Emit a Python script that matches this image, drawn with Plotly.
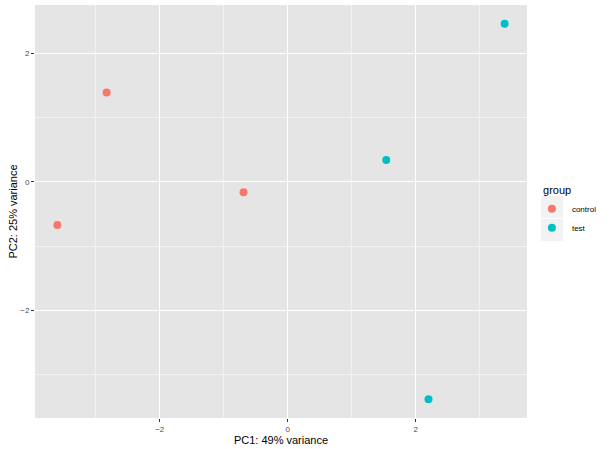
import plotly.graph_objects as go

# PCA scores
groups = ['control', 'control', 'control', 'test', 'test', 'test']
pc1 = [-2.83, -3.60, -0.69, 1.54, 3.39, 2.20]
pc2 = [1.39, -0.67, -0.16, 0.34, 2.46, -3.38]

colors = {'control': '#F8766D', 'test': '#00BFC4'}
font = 'Liberation Sans, Arial, sans-serif'

fig = go.Figure()
for g in ['control', 'test']:
    xs = [x for x, gg in zip(pc1, groups) if gg == g]
    ys = [y for y, gg in zip(pc2, groups) if gg == g]
    fig.add_trace(go.Scatter(x=xs, y=ys, mode='markers', name=g,
                             marker=dict(color=colors[g], size=8)))

# ggplot-style 5% padding around the data
xr = max(pc1) - min(pc1)
yr = max(pc2) - min(pc2)

axis_common = dict(
    showgrid=True, gridcolor='white', gridwidth=1.1,
    zeroline=False, showline=False, automargin=False,
    ticks='outside', ticklen=3, tickwidth=1, tickcolor='#333333',
    tickfont=dict(size=8, color='#4D4D4D', family=font),
    tick0=0, dtick=2,
    minor=dict(dtick=1, showgrid=True, gridcolor='#F2F2F2', gridwidth=0.5, ticks=''),
)

fig.update_xaxes(range=[min(pc1) - 0.05 * xr, max(pc1) + 0.05 * xr],
                 title=dict(text='PC1: 49% variance', font=dict(size=11, color='black', family=font),
                            standoff=1),
                 **axis_common)
fig.update_yaxes(range=[min(pc2) - 0.05 * yr, max(pc2) + 0.05 * yr],
                 title=dict(text='PC2: 25% variance', font=dict(size=11, color='black', family=font),
                            standoff=0),
                 **axis_common)

# grey key backgrounds like ggplot's legend keys
for y0, y1 in [(0.4843, 0.5375), (0.4286, 0.4818)]:
    fig.add_shape(type='rect', xref='paper', yref='paper', x0=1.0285, x1=1.0732, y0=y0, y1=y1,
                  fillcolor='#F2F2F2', line=dict(width=0), layer='below')

fig.update_layout(
    template='none',
    width=613, height=449,
    margin=dict(l=35, r=86, t=5, b=31, autoexpand=False),
    plot_bgcolor='#E5E5E5', paper_bgcolor='white',
    font=dict(family=font, color='black'),
    legend=dict(title=dict(text='&nbsp;&nbsp;&nbsp;group', font=dict(size=11, color='black')),
                font=dict(size=8, color='black'),
                x=1.01, xanchor='left', y=0.5, yanchor='middle',
                bgcolor='rgba(0,0,0,0)', tracegroupgap=0),
)

# drop the browser's default body margin so the figure sits at the top-left
fig.write_html('out.html', config={'displayModeBar': False},
               post_script="document.body.style.margin='0';")
